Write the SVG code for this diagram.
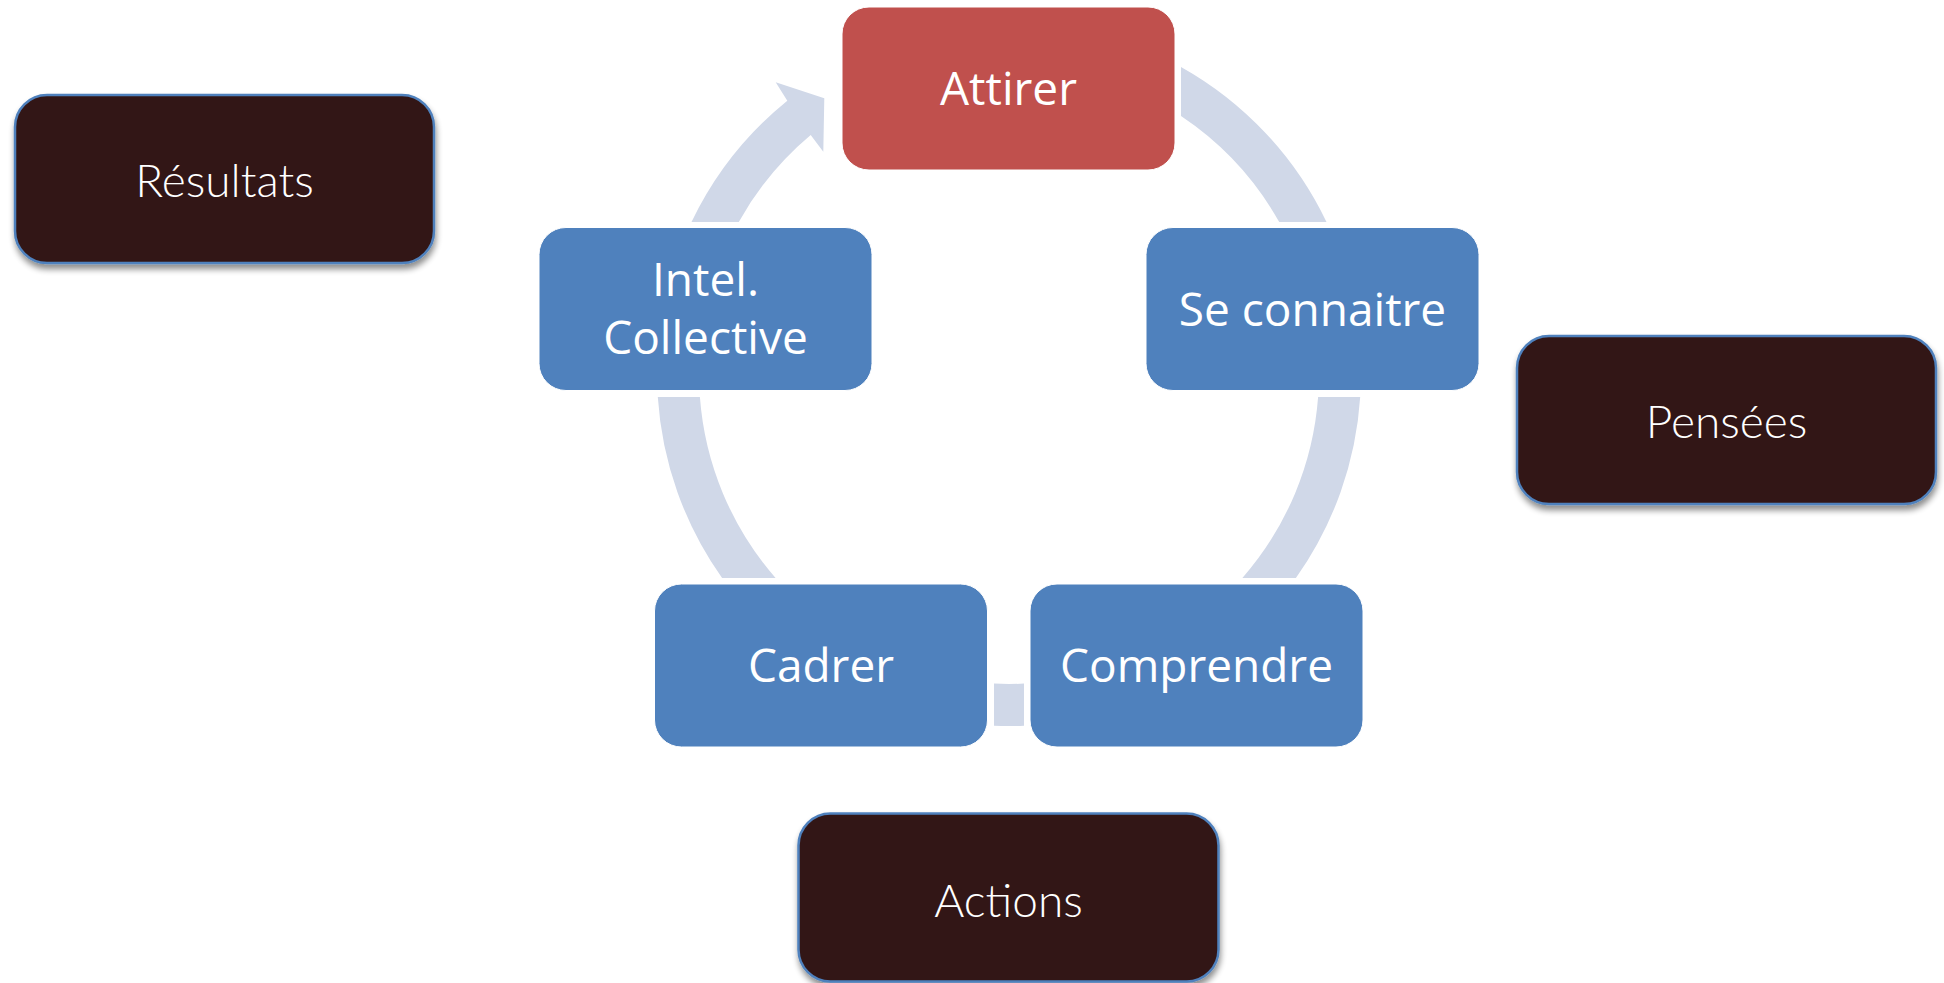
<svg xmlns="http://www.w3.org/2000/svg" width="1944" height="983" viewBox="0 0 1944 983">
  <defs>
    <filter id="shadow" x="-10%" y="-10%" width="130%" height="140%">
      <feGaussianBlur in="SourceAlpha" stdDeviation="3"/>
      <feOffset dx="1" dy="5" result="b"/>
      <feComponentTransfer><feFuncA type="linear" slope="0.45"/></feComponentTransfer>
      <feMerge><feMergeNode/><feMergeNode in="SourceGraphic"/></feMerge>
    </filter>
  </defs>
  <style>
    .blue { fill: #4F81BD; stroke: #FFFFFF; stroke-width: 1; }
    .red { fill: #C0504D; stroke: #FFFFFF; stroke-width: 1; }
    .dark { fill: #331718; stroke: #4F81BD; stroke-width: 2.5; filter: url(#shadow); }
    .arc { fill: #D0D8E8; stroke: none; }
    .t { font-family: "Open Sans", "Noto Sans", sans-serif; font-size: 46px; fill: #FFFFFF; text-anchor: middle; }
    .d { font-family: "Lato", "Open Sans", sans-serif; font-weight: 300; font-size: 46px; fill: #FFFFFF; text-anchor: middle; }
  </style>
  <rect width="1944" height="983" fill="#FFFFFF"/>

  <g id="connectors">
    <path class="arc" d="M1181,66.9 A352,352 0 0 1 1326.5,222 L1279.2,222 A310,310 0 0 0 1181,116.1 Z"/>
    <path class="arc" d="M1360.2,397 A352,352 0 0 1 1295.9,578 L1242.4,578 A310,310 0 0 0 1318.1,397 Z"/>
    <path class="arc" d="M1024,725.7 A352,352 0 0 1 994,725.7 L994,683.6 A310,310 0 0 0 1024,683.6 Z"/>
    <path class="arc" d="M722.1,578 A352,352 0 0 1 657.8,397 L699.9,397 A310,310 0 0 0 775.6,578 Z"/>
    <path class="arc" d="M691.5,222 A352,352 0 0 1 787.3,100.7 L775.7,82.3 L824.3,98.3 L823.3,151.7 L810.7,135 A310,310 0 0 0 738.8,222 Z"/>
  </g>

  <g id="node-attirer">
    <rect class="red" x="842" y="7" width="333" height="163" rx="27"/>
    <text class="t" x="1008.5" y="105">Attirer</text>
  </g>
  <g id="node-se-connaitre">
    <rect class="blue" x="1146" y="227.5" width="333" height="163" rx="27"/>
    <text class="t" x="1312.5" y="325.5">Se connaitre</text>
  </g>
  <g id="node-comprendre">
    <rect class="blue" x="1030" y="584" width="333" height="163" rx="27"/>
    <text class="t" x="1196.5" y="682">Comprendre</text>
  </g>
  <g id="node-cadrer">
    <rect class="blue" x="654.5" y="584" width="333" height="163" rx="27"/>
    <text class="t" x="821" y="682">Cadrer</text>
  </g>
  <g id="node-intel-collective">
    <rect class="blue" x="539" y="227.5" width="333" height="163" rx="27"/>
    <text class="t" x="705.5" y="296">Intel.</text>
    <text class="t" x="705.5" y="354">Collective</text>
  </g>

  <g id="node-resultats">
    <rect class="dark" x="15" y="95" width="419" height="168" rx="32"/>
    <text class="d" x="224.5" y="196.5">Résultats</text>
  </g>
  <g id="node-pensees">
    <rect class="dark" x="1517" y="336" width="419" height="168" rx="32"/>
    <text class="d" x="1726.5" y="438">Pensées</text>
  </g>
  <g id="node-actions">
    <rect class="dark" x="798.5" y="813.5" width="420" height="168" rx="32"/>
    <text class="d" x="1008.5" y="916.5">Actions</text>
  </g>
</svg>
